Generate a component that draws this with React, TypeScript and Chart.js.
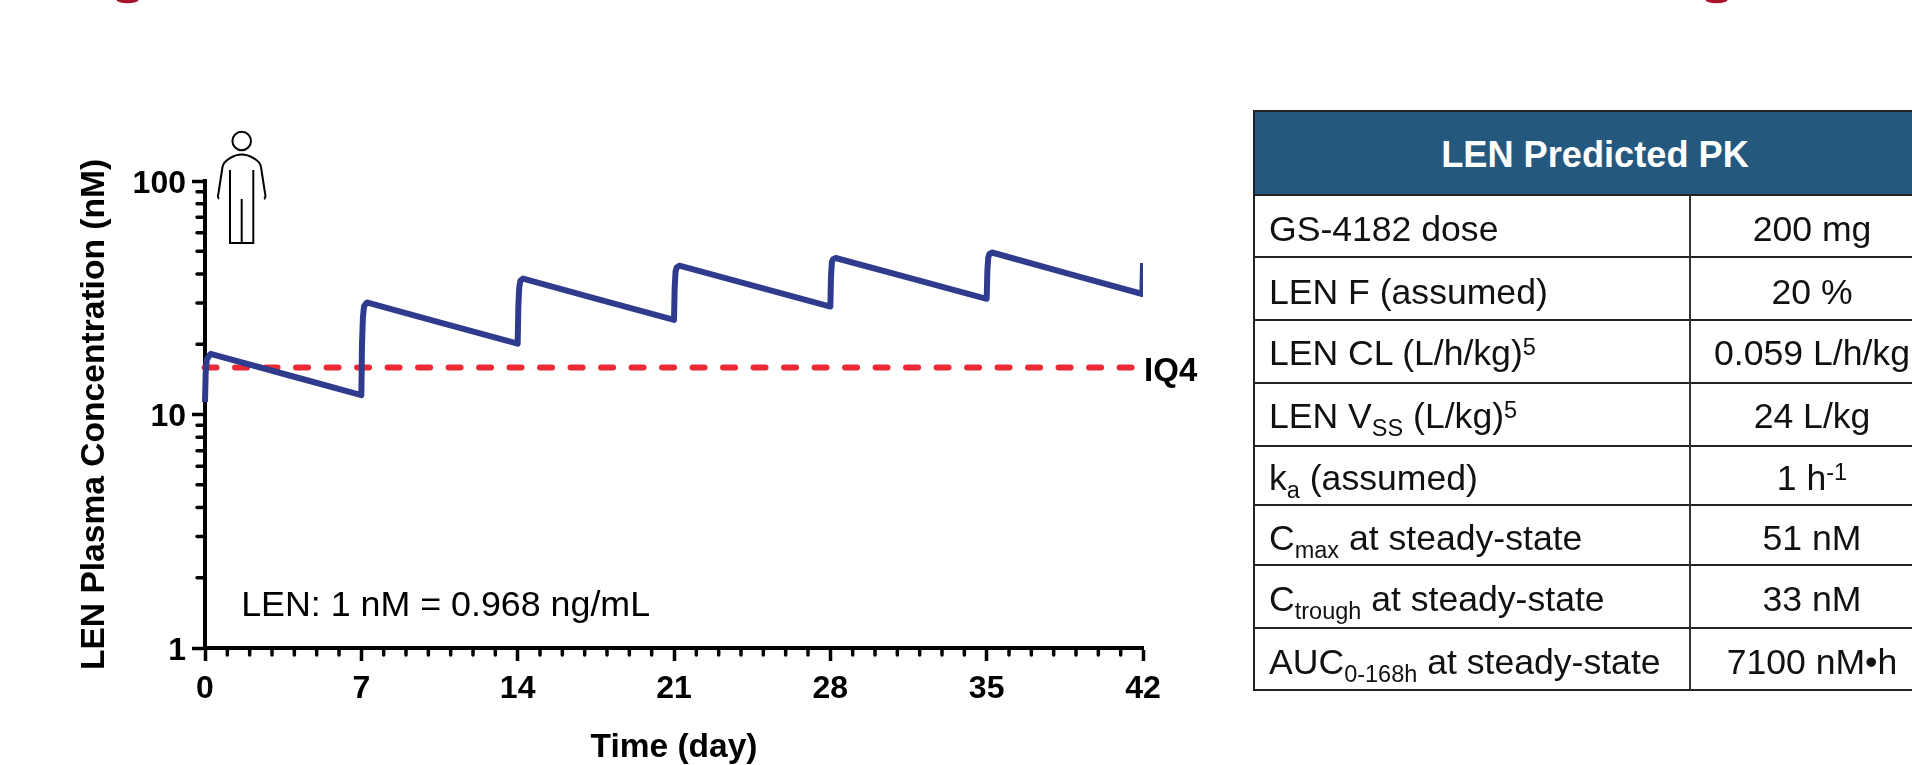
import React, { useEffect, useRef } from "react";
import { Chart, registerables } from "chart.js";

Chart.register(...registerables);

// ---- chart data ----
const curveDays = [0, 0.03, 0.08, 0.25, 7, 7.03, 7.07, 7.12, 7.24, 14, 14.03, 14.07, 14.12, 14.24, 21, 21.03, 21.07, 21.12, 21.24, 28, 28.03, 28.07, 28.12, 28.24, 35, 35.03, 35.07, 35.12, 35.24, 41.97, 42];
const curveConc = [11.3, 15, 17.2, 18.2, 12.1, 20, 26, 29, 30.2, 20.1, 29, 35, 37.4, 38.2, 25.4, 35, 41, 42.6, 43.4, 29, 39, 45, 46.2, 46.8, 31.3, 41, 47, 48.6, 49.4, 32.8, 44.5];
const iq4Days = [-0.02, 41.53];
const iq4Conc = [15.9, 15.9];
const xMajorTicks = [0, 7, 14, 21, 28, 35, 42];
const xMinorTicks = [1, 2, 3, 4, 5, 6, 8, 9, 10, 11, 12, 13, 15, 16, 17, 18, 19, 20, 22, 23, 24, 25, 26, 27, 29, 30, 31, 32, 33, 34, 36, 37, 38, 39, 40, 41];
const yMajorTicks = [1, 10, 100];
const yMinorTicks = [2, 3, 4, 5, 6, 7, 8, 9, 20, 30, 40, 50, 60, 70, 80, 90];
const xTitle = "Time (day)";
const yTitle = "LEN Plasma Concentration (nM)";
const noteText = "LEN: 1 nM = 0.968 ng/mL";
const iq4Label = "IQ4";

// ---- table data: [text, kind] runs, kind "" | "sub" | "sup" ----
type Run = [string, string];
const tableHeader = "LEN Predicted PK";
const tableLabels: Run[][] = [
  [["GS-4182 dose", ""]],
  [["LEN F (assumed)", ""]],
  [["LEN CL (L/h/kg)", ""], ["5", "sup"]],
  [["LEN V", ""], ["SS", "sub"], [" (L/kg)", ""], ["5", "sup"]],
  [["k", ""], ["a", "sub"], [" (assumed)", ""]],
  [["C", ""], ["max", "sub"], [" at steady-state", ""]],
  [["C", ""], ["trough", "sub"], [" at steady-state", ""]],
  [["AUC", ""], ["0-168h", "sub"], [" at steady-state", ""]],
];
const tableValues: Run[][] = [
  [["200 mg", ""]],
  [["20 %", ""]],
  [["0.059 L/h/kg", ""]],
  [["24 L/kg", ""]],
  [["1 h", ""], ["-1", "sup"]],
  [["51 nM", ""]],
  [["33 nM", ""]],
  [["7100 nM•h", ""]],
];
const rowLines = [195, 257, 320, 383, 446, 505, 565, 628, 690];
const rowBaselines = [241, 304, 365, 428, 490, 550, 611, 674];

const FONT = '"Liberation Sans", Arial, sans-serif';

const decorPlugin = {
  id: "decor",
  afterDraw(chart: any) {
    const { ctx, scales } = chart;
    const x = scales.x;
    const y = scales.y;
    ctx.save();
    ctx.strokeStyle = "#000";
    ctx.lineWidth = 3.5;
    ctx.lineCap = "round";
    ctx.beginPath();
    const bottom = y.getPixelForValue(1);
    const left = x.getPixelForValue(0);
    for (const d of xMinorTicks) {
      const px = x.getPixelForValue(d);
      ctx.moveTo(px, bottom);
      ctx.lineTo(px, bottom + 7);
    }
    for (const v of yMinorTicks) {
      const py = y.getPixelForValue(v);
      ctx.moveTo(left, py);
      ctx.lineTo(left - 8, py);
    }
    ctx.stroke();
    ctx.fillStyle = "#000";
    ctx.textAlign = "left";
    ctx.textBaseline = "alphabetic";
    ctx.font = `35.8px ${FONT}`;
    ctx.fillText(noteText, x.getPixelForValue(1.62), y.getPixelForValue(1.37));
    ctx.font = `bold 33px ${FONT}`;
    ctx.textBaseline = "middle";
    ctx.fillText(iq4Label, x.getPixelForValue(42.05), y.getPixelForValue(15.9) + 4);
    ctx.restore();
  },
};

function Cell({ runs, left, center, baseline }: { runs: Run[]; left?: number; center?: number; baseline: number }) {
  const style: React.CSSProperties = {
    position: "absolute",
    top: baseline - 32.3,
    whiteSpace: "pre",
    fontFamily: FONT,
    fontSize: 35.6,
    lineHeight: "40px",
    color: "#111",
    transform: center !== undefined ? "translateX(-50%)" : undefined,
    left: left !== undefined ? left : center,
  };
  return (
    <div style={style}>
      {runs.map(([t, k], i) =>
        k === "" ? (
          <span key={i}>{t}</span>
        ) : (
          <span
            key={i}
            style={{ fontSize: 23.5, lineHeight: 0, verticalAlign: k === "sub" ? -8 : 10 }}
          >
            {t}
          </span>
        )
      )}
    </div>
  );
}

export default function App() {
  const ref = useRef<HTMLCanvasElement | null>(null);
  useEffect(() => {
    const chart = new Chart(ref.current as HTMLCanvasElement, {
      type: "line",
      data: {
        datasets: [
          {
            label: "LEN",
            data: curveDays.map((d, i) => ({ x: d, y: curveConc[i] })),
            borderColor: "#2F3C8E",
            borderWidth: 6,
            borderJoinStyle: "round",
            borderCapStyle: "butt",
            pointRadius: 0,
            tension: 0.001,
            order: 1,
            clip: { left: 4, right: 0, top: 4, bottom: 4 },
          },
          {
            label: "IQ4",
            data: iq4Days.map((d, i) => ({ x: d, y: iq4Conc[i] })),
            borderColor: "#EC2A35",
            borderWidth: 6,
            borderDash: [12, 18.5],
            borderCapStyle: "round",
            pointRadius: 0,
            tension: 0,
            order: 2,
            clip: false,
          },
        ],
      } as any,
      plugins: [decorPlugin],
      options: {
        animation: false,
        responsive: false,
        events: [],
        layout: { padding: { left: 75, top: 181, right: 769, bottom: 0 } },
        plugins: { legend: { display: false }, tooltip: { enabled: false }, title: { display: false } },
        scales: {
          x: {
            type: "linear",
            min: 0,
            max: 42,
            afterBuildTicks: (s: any) => {
              s.ticks = xMajorTicks.map((value) => ({ value }));
            },
            afterFit: (s: any) => {
              s.height = 117;
            },
            grid: { display: true, drawOnChartArea: false, drawTicks: true, tickLength: 13, tickWidth: 3.5, tickColor: "#000" },
            border: { display: true, color: "#000", width: 4 },
            ticks: {
              autoSkip: false,
              maxRotation: 0,
              padding: 9,
              color: "#000",
              font: { family: FONT, size: 32, weight: "bold" },
            },
            title: {
              display: true,
              text: xTitle,
              color: "#000",
              font: { family: FONT, size: 33.5, weight: "bold", lineHeight: 1 },
              padding: 0,
            },
          },
          y: {
            type: "logarithmic",
            min: 1,
            max: 100,
            afterBuildTicks: (s: any) => {
              s.ticks = yMajorTicks.map((value) => ({ value, major: true }));
            },
            afterFit: (s: any) => {
              s.width = 130;
            },
            grid: { display: true, drawOnChartArea: false, drawTicks: true, tickLength: 13, tickWidth: 3.5, tickColor: "#000" },
            border: { display: true, color: "#000", width: 4 },
            ticks: {
              autoSkip: false,
              padding: 6,
              labelOffset: 3,
              color: "#000",
              font: { family: FONT, size: 32, weight: "bold" },
              callback: (v: any) => String(v),
            },
            title: {
              display: true,
              text: yTitle,
              color: "#000",
              font: { family: FONT, size: 33.6, weight: "bold", lineHeight: 1.2 },
              padding: 0,
            },
          },
        },
      } as any,
    });
    return () => chart.destroy();
  }, []);

  return (
    <div style={{ position: "fixed", left: 0, top: 0, width: 1912, height: 765, overflow: "hidden", background: "#fff" }}>
      <canvas ref={ref} width={1912} height={765} style={{ position: "absolute", left: 0, top: 0, display: "block" }} />
      <svg width={1912} height={765} style={{ position: "absolute", left: 0, top: 0 }}>
        <ellipse cx={127.5} cy={0} rx={11} ry={3.2} fill="#A5122A" />
        <ellipse cx={1716.5} cy={0} rx={11} ry={3.2} fill="#A5122A" />
        <g fill="none" stroke="#000" strokeWidth={2}>
          <circle cx={241.7} cy={141} r={9.3} />
          <path d="M219 199 C217.5 198 218 195 218.5 193 L222.5 167 C223.5 160 235 154.5 241.7 154.5 C248.5 154.5 260 160 261 167 L265 193 C265.5 195 266 198 264 199" />
          <path d="M230 170 V243 H253.3 V170 M241.7 199 V243" />
        </g>
      </svg>
      <div style={{ position: "absolute", left: 1253, top: 110, width: 659, height: 85, background: "#24587F", borderTop: "2px solid #222", boxSizing: "border-box" }} />
      <div
        style={{
          position: "absolute",
          left: 1595,
          top: 134.5,
          transform: "translateX(-50%)",
          whiteSpace: "pre",
          color: "#fff",
          fontFamily: FONT,
          fontWeight: "bold",
          fontSize: 36.2,
          lineHeight: "40px",
        }}
      >
        {tableHeader}
      </div>
      {rowLines.map((y) => (
        <div key={y} style={{ position: "absolute", left: 1253, top: y - 1, width: 659, height: 2, background: "#222" }} />
      ))}
      <div style={{ position: "absolute", left: 1252.5, top: 110, width: 2, height: 581, background: "#222" }} />
      <div style={{ position: "absolute", left: 1689, top: 195, width: 2, height: 495, background: "#333" }} />
      {tableLabels.map((runs, i) => (
        <Cell key={i} runs={runs} left={1269} baseline={rowBaselines[i]} />
      ))}
      {tableValues.map((runs, i) => (
        <Cell key={i} runs={runs} center={1812} baseline={rowBaselines[i]} />
      ))}
    </div>
  );
}
